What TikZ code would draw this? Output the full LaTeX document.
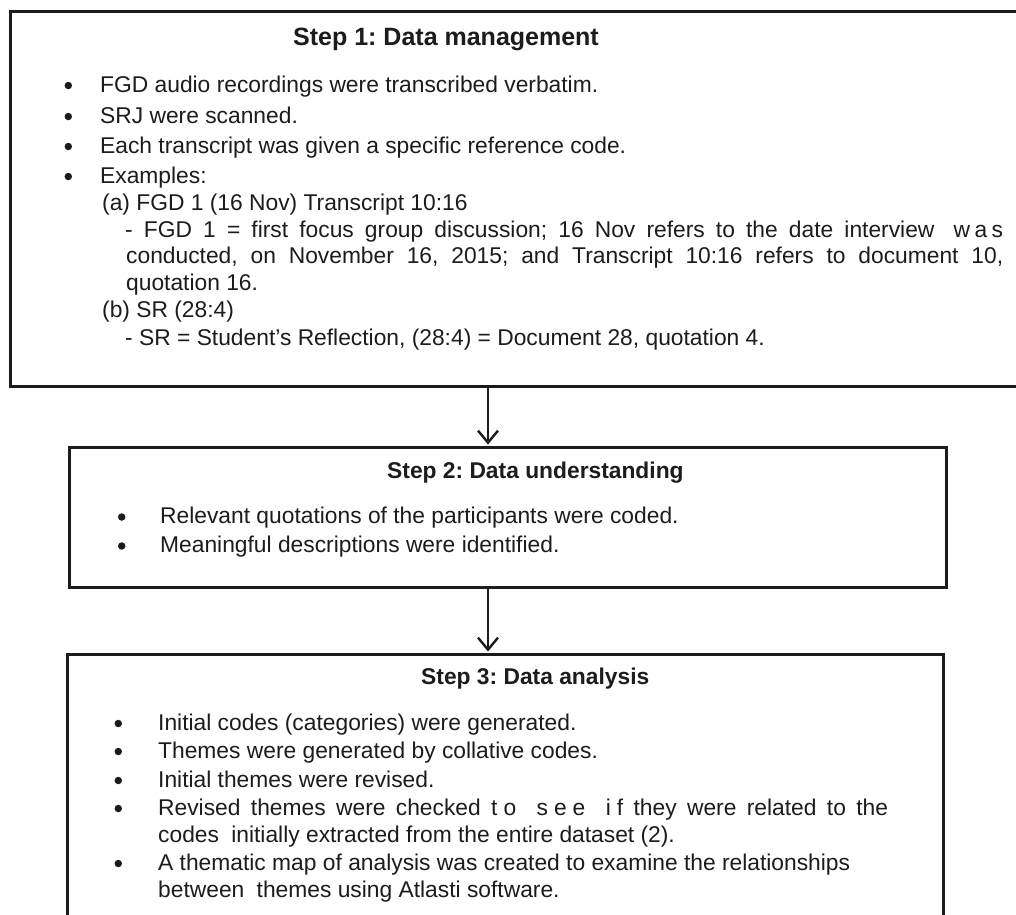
\documentclass[tikz,border=0pt]{standalone}
\usepackage{fontspec}
\setmainfont{Liberation Sans}
\usetikzlibrary{arrows.meta}
\definecolor{ink}{HTML}{1E1B1C}
\tikzset{
  frame/.style={draw=ink, line width=3.2pt, rectangle, inner sep=0pt, anchor=north west},
  ttl/.style={anchor=base west, inner sep=0pt, font=\fontsize{25}{28}\selectfont\bfseries\frenchspacing, text=ink},
  ttlb/.style={anchor=base west, inner sep=0pt, font=\fontsize{22.8}{27}\selectfont\bfseries\frenchspacing, text=ink},
  txt/.style={anchor=base west, inner sep=0pt, font=\fontsize{22.8}{27}\selectfont\frenchspacing, text=ink},
  blt/.style={circle, fill=ink, inner sep=0pt, minimum size=7.5pt},
  flow/.style={draw=ink, line width=2.6pt, shorten >=1.5pt, -{Straight Barb[length=12pt,width=20pt,line width=2.4pt]}}
}
\begin{document}
\begin{tikzpicture}[x=1pt,y=-1pt]
\useasboundingbox (0,0) rectangle (1016,914);
\clip (0,0) rectangle (1016,914);
\fill[white] (0,0) rectangle (1016,914);
% frames
\node[frame, minimum width=1045pt, minimum height=375pt] (box1) at (9,10) {};
\node[frame, minimum width=877pt, minimum height=140pt] (box2) at (68,446) {};
\node[frame, minimum width=876pt, minimum height=300pt] (box3) at (66,653) {};
% connectors
\coordinate (ax) at (488,0);
\draw[flow] (box1.south -| ax) -- (box2.north -| ax);
\draw[flow] (box2.south -| ax) -- (box3.north -| ax);
% Step 1
\node[ttl] (h1) at (293,45) {Step 1: Data management};
\node[blt] (b11) at (68.3,85.5) {};
\node[txt] (t11) at (100,92) {FGD audio recordings were transcribed verbatim.};
\node[blt] (b12) at (68.3,116.5) {};
\node[txt] (t12) at (100,123) {SRJ were scanned.};
\node[blt] (b13) at (68.3,146.5) {};
\node[txt] (t13) at (100,153) {Each transcript was given a specific reference code.};
\node[blt] (b14) at (68.3,176.5) {};
\node[txt] (t14) at (100,183) {Examples:};
\node[txt] (t15) at (102,210) {(a) FGD 1 (16 Nov) Transcript 10:16};
\node[txt] (t16) at (125,237) {\makebox[878pt][s]{- FGD 1 = first focus group discussion; 16 Nov refers to the date interview\hspace{8pt} w\kern4.5pt a\kern4.5pt s}};
\node[txt] (t17) at (126,263) {\makebox[877pt][s]{conducted, on November 16, 2015; and Transcript 10:16 refers to document 10,}};
\node[txt] (t18) at (126,290) {quotation 16.};
\node[txt] (t19) at (102,317) {(b) SR (28:4)};
\node[txt] (t1a) at (125,345) {- SR = Student’s Reflection, (28:4) = Document 28, quotation 4.};
% Step 2
\node[ttlb] (h2) at (387,478) {Step 2: Data understanding};
\node[blt] (b21) at (121.7,517) {};
\node[txt] (t21) at (160,523) {Relevant quotations of the participants were coded.};
\node[blt] (b22) at (121.7,546) {};
\node[txt] (t22) at (160,552) {Meaningful descriptions were identified.};
% Step 3
\node[ttlb] (h3) at (421,684) {Step 3: Data analysis};
\node[blt] (b31) at (118.3,723.5) {};
\node[txt] (t31) at (158,730) {Initial codes (categories) were generated.};
\node[blt] (b32) at (118.3,751.5) {};
\node[txt] (t32) at (158,758) {Themes were generated by collative codes.};
\node[blt] (b33) at (118.3,780.5) {};
\node[txt] (t33) at (158,787) {Initial themes were revised.};
\node[blt] (b34) at (118.3,808.5) {};
\node[txt] (t34) at (158,815) {\makebox[730pt][s]{Revised themes were checked t\kern6pt o\hspace{10pt} s\kern6pt e\kern6pt e\hspace{10pt} i\kern6pt f they were related to the}};
\node[txt] (t35) at (158,842) {codes\hspace{6pt} initially extracted from the entire dataset (2).};
\node[blt] (b36) at (118.3,863.5) {};
\node[txt] (t36) at (158,870) {A thematic map of analysis was created to examine the relationships};
\node[txt] (t37) at (158,897) {between\hspace{6pt} themes using Atlasti software.};
\end{tikzpicture}
\end{document}
